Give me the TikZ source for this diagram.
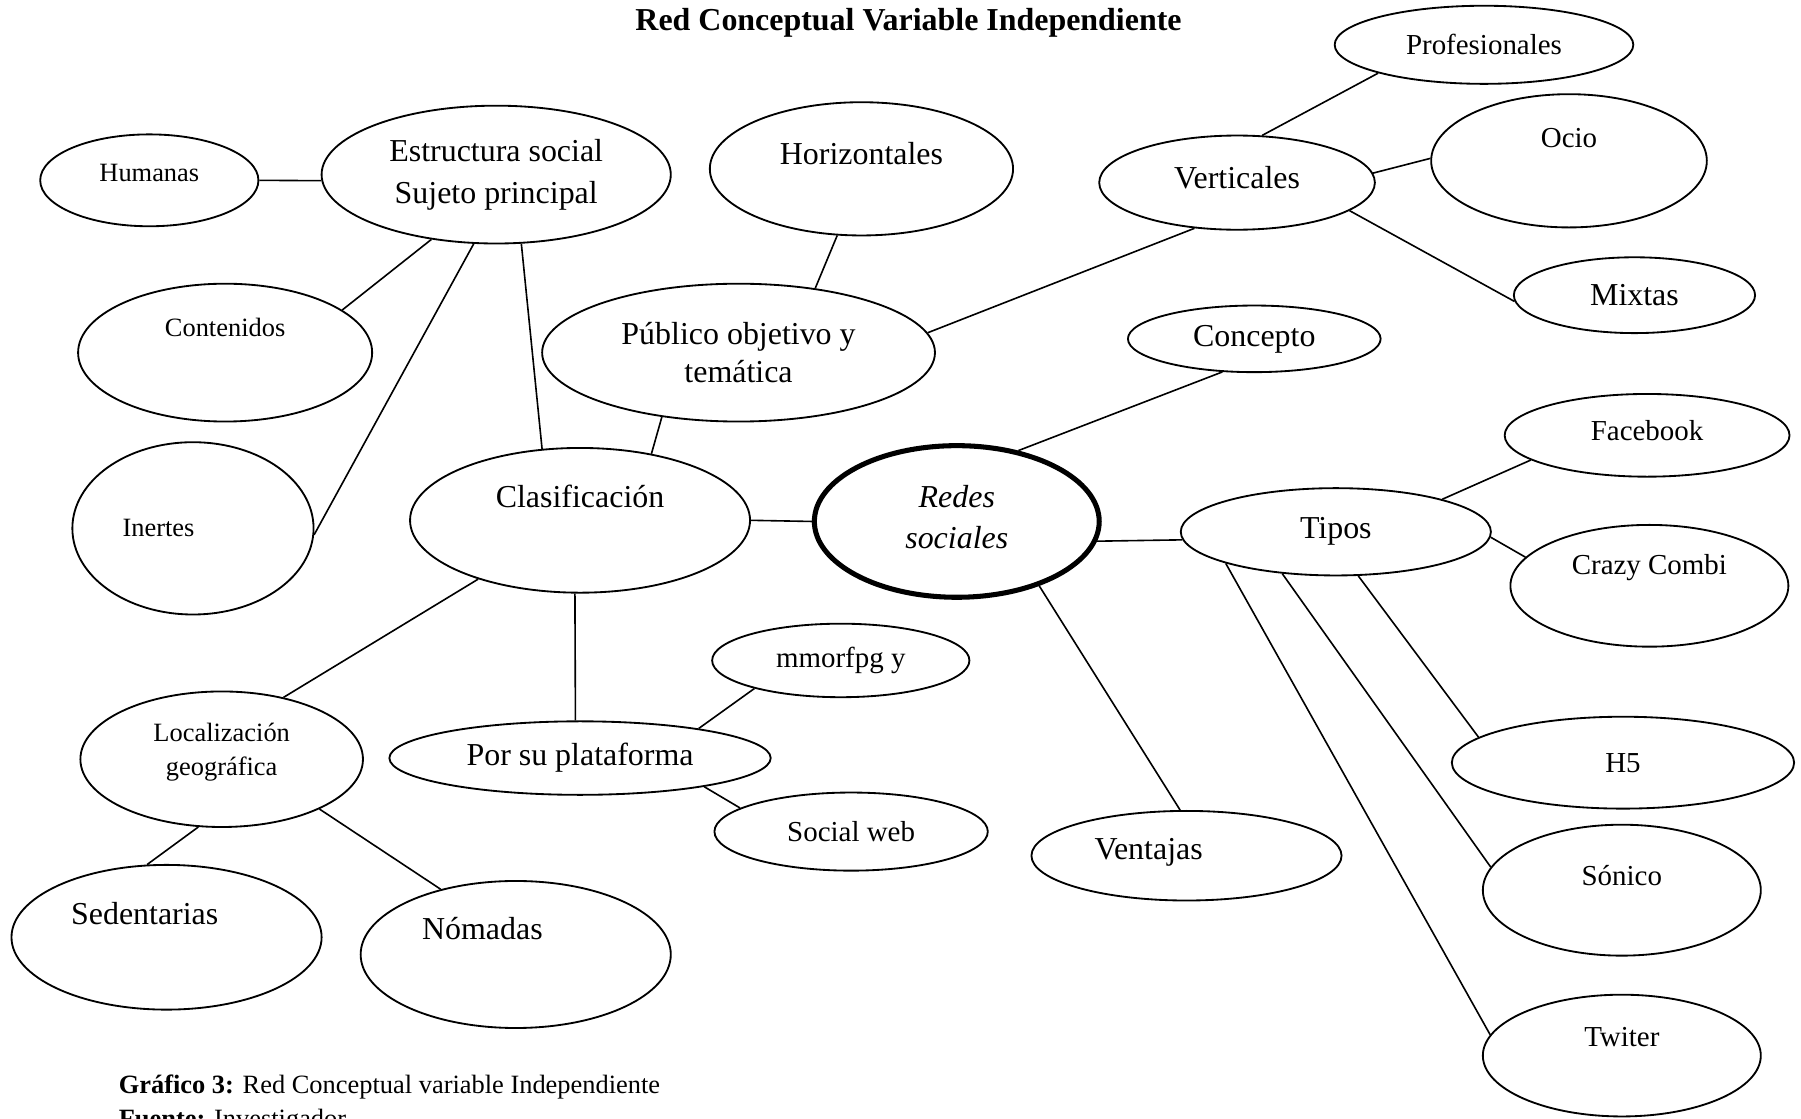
\documentclass[tikz,border=0pt]{standalone}
\usepackage{fontspec}
\setmainfont{Liberation Serif}
\usetikzlibrary{shapes.geometric}

\tikzset{
    bub/.style={draw, ellipse, line width=0.8pt, inner sep=0pt},
    big/.style={font=\fontsize{13.9}{18.5}\selectfont},
    mid/.style={font=\fontsize{12.6}{16}\selectfont},
    sml/.style={font=\fontsize{11.5}{15}\selectfont},
    link/.style={line width=0.7pt}
}

\begin{document}
\begin{tikzpicture}[x=0.5pt, y=-0.5pt]
    \useasboundingbox (0,0) rectangle (1568,974);

    \node[font=\fontsize{13.9}{17}\selectfont\bfseries] (title) at (791,20) {Red Conceptual Variable Independiente};

    \node[bub, minimum width=95pt, minimum height=40pt, label={[sml, yshift=3pt]center:Humanas}] (humanas) at (130,157) {};
    \node[bub, big, align=center, minimum width=152pt, minimum height=60pt] (estructura) at (432,152) {Estructura social\\Sujeto principal};
    \node[bub, minimum width=132pt, minimum height=58pt, label={[big, yshift=6.5pt]center:Horizontales}] (horizontales) at (750,147) {};
    \node[bub, mid, minimum width=130pt, minimum height=34pt] (profesionales) at (1292,39) {Profesionales};
    \node[bub, minimum width=120pt, minimum height=41pt, label={[big, yshift=2pt]center:Verticales}] (verticales) at (1077,159) {};
    \node[bub, minimum width=120pt, minimum height=58pt, label={[mid, yshift=10pt]center:Ocio}] (ocio) at (1366,140) {};
    \node[bub, big, minimum width=105pt, minimum height=33pt] (mixtas) at (1423,257) {Mixtas};
    \node[bub, minimum width=128pt, minimum height=60pt, label={[sml, yshift=11pt]center:Contenidos}] (contenidos) at (196,307) {};
    \node[bub, align=center, font=\fontsize{13.9}{16.5}\selectfont, minimum width=171pt, minimum height=60pt] (publico) at (643,307) {Público objetivo y\\temática};
    \node[bub, big, minimum width=110pt, minimum height=29pt] (concepto) at (1092,295) {Concepto};
    \node[bub, minimum width=124pt, minimum height=36pt, label={[mid, yshift=2pt]center:Facebook}] (facebook) at (1434,379) {};
    \node[bub, minimum width=105pt, minimum height=75pt, label={[sml, xshift=-15pt]center:Inertes}] (inertes) at (168,460) {};
    \node[bub, minimum width=148pt, minimum height=63pt, label={[big, yshift=10.5pt]center:Clasificación}] (clasificacion) at (505,453) {};
    \node[bub, line width=2.2pt, minimum width=124pt, minimum height=66pt, label={[align=center, font=\fontsize{13.9}{18}\selectfont\itshape, yshift=2pt]center:Redes\\sociales}] (redes) at (833,454) {};
    \node[bub, big, minimum width=135pt, minimum height=38pt] (tipos) at (1163,463) {Tipos};
    \node[bub, minimum width=121pt, minimum height=53pt, label={[mid, yshift=8pt]center:Crazy Combi}] (crazy) at (1436,510) {};
    \node[bub, mid, minimum width=112pt, minimum height=32pt] (mmorfpg) at (732,575) {mmorfpg y};
    \node[bub, minimum width=123pt, minimum height=59pt, label={[sml, align=center, yshift=3pt]center:Localización\\geográfica}] (localizacion) at (193,661) {};
    \node[bub, big, minimum width=166pt, minimum height=32pt] (plataforma) at (505,660) {Por su plataforma};
    \node[bub, mid, minimum width=149pt, minimum height=40pt] (h5) at (1413,664) {H5};
    \node[bub, mid, minimum width=119pt, minimum height=34pt] (socialweb) at (741,724) {Social web};
    \node[bub, minimum width=135pt, minimum height=39pt, label={[big, xshift=-16.5pt, yshift=1.5pt]center:Ventajas}] (ventajas) at (1033,745) {};
    \node[bub, minimum width=135pt, minimum height=63pt, label={[big, xshift=-9.5pt, yshift=10.5pt]center:Sedentarias}] (sedentarias) at (145,816) {};
    \node[bub, minimum width=135pt, minimum height=64pt, label={[big, xshift=-14.5pt, yshift=11.5pt]center:Nómadas}] (nomadas) at (449,831) {};
    \node[bub, minimum width=121pt, minimum height=57pt, label={[mid, yshift=6.5pt]center:Sónico}] (sonico) at (1412,775) {};
    \node[bub, minimum width=121pt, minimum height=53pt, label={[mid, yshift=8pt]center:Twiter}] (twiter) at (1412,919) {};

    \node[sml, inner sep=0pt, anchor=base west] (grafico) at (103,952) {\textbf{Gráfico 3:} Red Conceptual variable Independiente};
    \node[sml, inner sep=0pt, anchor=base west] (fuente) at (103,982) {\textbf{Fuente:} Investigador};

    \draw[link] (humanas.east) -- (estructura.182);
    \draw[link] (estructura.225) -- (contenidos.20);
    \draw[link] (estructura.252) -- (inertes.357);
    \draw[link] (estructura.290) -- (clasificacion.118);
    \draw[link] (horizontales.250) -- (publico.40);
    \draw[link] (verticales.227) -- (publico.6);
    \draw[link] (verticales.62) -- (profesionales.195);
    \draw[link] (verticales.4) -- (ocio.179);
    \draw[link] (verticales.346) -- (mixtas.183);
    \draw[link] (publico.220) -- (clasificacion.43);
    \draw[link] (concepto.226) -- (redes.49);
    \draw[link] (clasificacion.east) -- (redes.west);
    \draw[link] (redes.352) -- (tipos.183);
    \draw[link] (redes.322) -- (ventajas.98);
    \draw[link] (tipos.17) -- (facebook.192);
    \draw[link] (tipos.358) -- (crazy.167);
    \draw[link] (tipos.297) -- (h5.170);
    \draw[link] (tipos.218) -- (sonico.170);
    \draw[link] (tipos.196) -- (twiter.171);
    \draw[link] (clasificacion.210) -- (localizacion.45);
    \draw[link] (clasificacion.266) -- (plataforma.97);
    \draw[link] (plataforma.14) -- (mmorfpg.198);
    \draw[link] (plataforma.347) -- (socialweb.168);
    \draw[link] (localizacion.251) -- (sedentarias.105);
    \draw[link] (localizacion.333) -- (nomadas.139);
\end{tikzpicture}
\end{document}
